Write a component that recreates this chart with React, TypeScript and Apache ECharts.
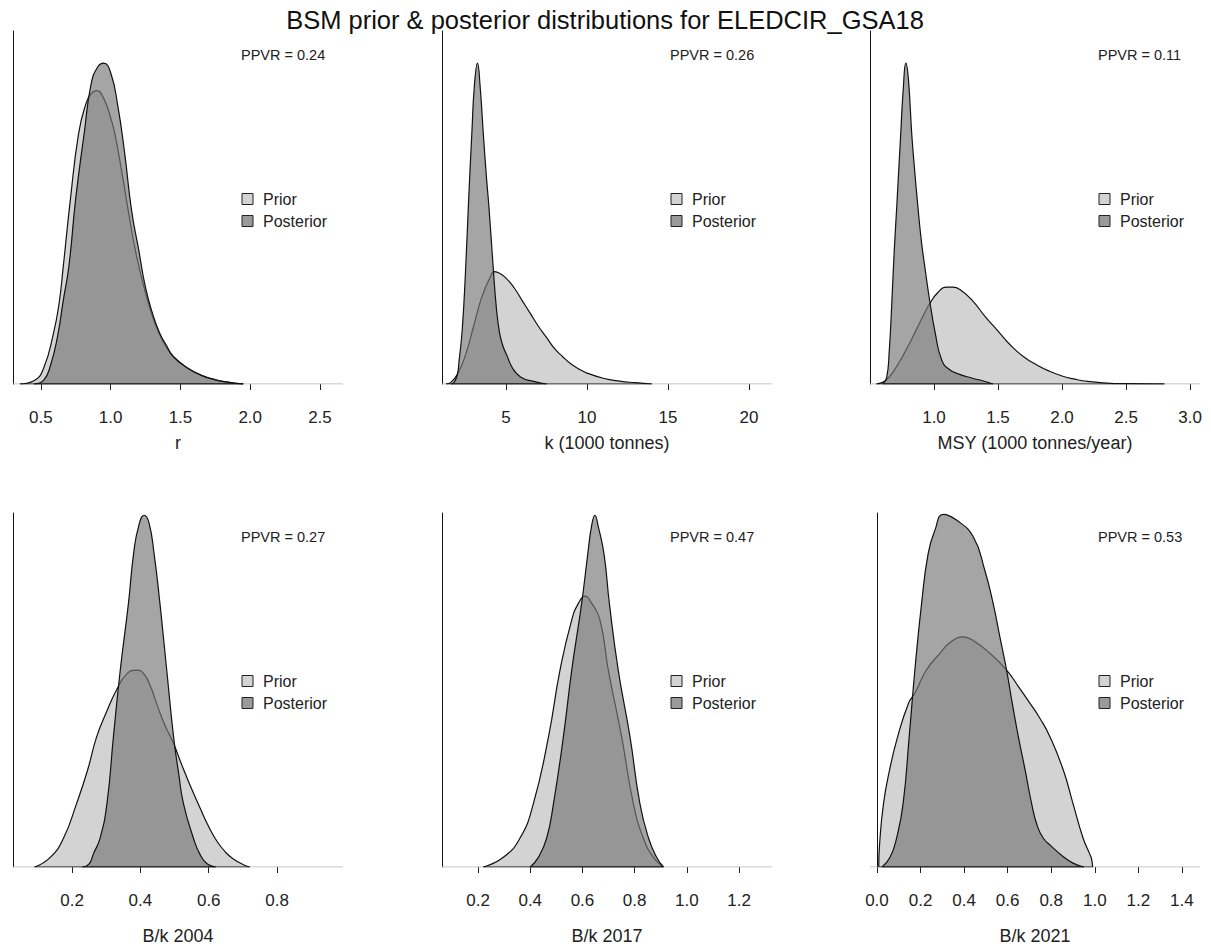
import React, { useEffect, useRef } from 'react';
import * as echarts from 'echarts';

const FONT = '"Liberation Sans", Arial, Helvetica, sans-serif';

const chartTitle = 'BSM prior & posterior distributions for ELEDCIR_GSA18';
const axisNames = ['r', 'k (1000 tonnes)', 'MSY (1000 tonnes/year)', 'B/k 2004', 'B/k 2017', 'B/k 2021'];
const ppvrValues = ['0.24', '0.26', '0.11', '0.27', '0.47', '0.53'];
const legendLabels = ['Prior', 'Posterior'];

const xMins = [0.3, 1.05, 0.5, 0.027, 0.062, -0.032];
const xMaxs = [2.665, 21.42, 3.078, 0.993, 1.326, 1.483];
const xTicks = [
  [0.5, 1.0, 1.5, 2.0, 2.5],
  [5, 10, 15, 20],
  [1.0, 1.5, 2.0, 2.5, 3.0],
  [0.2, 0.4, 0.6, 0.8],
  [0.2, 0.4, 0.6, 0.8, 1.0, 1.2],
  [0.0, 0.2, 0.4, 0.6, 0.8, 1.0, 1.2, 1.4],
];
const tickDecimals = [1, 0, 1, 1, 1, 1];

// relative density (unlabelled y axis)
const rPrior = [[0.35, 0], [0.45, 0.01], [0.52, 0.05], [0.59, 0.158], [0.63, 0.25], [0.66, 0.365], [0.71, 0.57], [0.77, 0.78], [0.82, 0.87], [0.86, 0.905], [0.9, 0.914], [0.95, 0.89], [1.0, 0.83], [1.03, 0.78], [1.08, 0.66], [1.13, 0.53], [1.18, 0.41], [1.24, 0.3], [1.3, 0.21], [1.35, 0.155], [1.4, 0.115], [1.45, 0.085], [1.55, 0.05], [1.65, 0.027], [1.75, 0.013], [1.85, 0.005], [1.9, 0.002], [1.95, 0]];
const rPost = [[0.45, 0], [0.52, 0.012], [0.57, 0.06], [0.62, 0.15], [0.66, 0.26], [0.7, 0.365], [0.75, 0.58], [0.81, 0.78], [0.86, 0.935], [0.91, 0.99], [0.95, 1.0], [1.0, 0.97], [1.05, 0.87], [1.1, 0.72], [1.15, 0.54], [1.2, 0.42], [1.25, 0.3], [1.3, 0.22], [1.35, 0.16], [1.4, 0.12], [1.45, 0.085], [1.55, 0.05], [1.65, 0.027], [1.75, 0.013], [1.85, 0.005], [1.95, 0]];

const kPrior = [[1.3, 0], [1.6, 0.005], [2.0, 0.03], [2.5, 0.09], [3.0, 0.18], [3.5, 0.27], [4.0, 0.33], [4.3, 0.35], [4.6, 0.345], [5.0, 0.33], [5.5, 0.3], [6.0, 0.26], [6.5, 0.22], [7.0, 0.18], [7.5, 0.145], [8.0, 0.11], [8.5, 0.085], [9.0, 0.063], [9.5, 0.047], [10, 0.034], [11, 0.018], [12, 0.009], [13, 0.004], [14, 0]];
const kPost = [[1.6, 0], [1.8, 0.005], [2.0, 0.03], [2.1, 0.07], [2.3, 0.17], [2.5, 0.35], [2.7, 0.58], [2.9, 0.79], [3.05, 0.93], [3.24, 1.0], [3.4, 0.93], [3.6, 0.78], [3.8, 0.64], [3.95, 0.55], [4.2, 0.37], [4.4, 0.24], [4.6, 0.16], [4.8, 0.12], [5.05, 0.09], [5.4, 0.05], [5.9, 0.022], [6.7, 0.008], [7.5, 0]];

const msyPrior = [[0.55, 0], [0.62, 0.01], [0.7, 0.05], [0.8, 0.12], [0.9, 0.2], [0.96, 0.246], [1.03, 0.285], [1.1, 0.302], [1.15, 0.302], [1.2, 0.295], [1.3, 0.26], [1.4, 0.21], [1.5, 0.165], [1.6, 0.12], [1.7, 0.085], [1.8, 0.06], [1.9, 0.04], [2.0, 0.025], [2.1, 0.015], [2.2, 0.008], [2.35, 0.003], [2.5, 0.001], [2.8, 0]];
const msyPost = [[0.6, 0], [0.63, 0.02], [0.65, 0.1], [0.67, 0.25], [0.69, 0.42], [0.71, 0.56], [0.74, 0.78], [0.76, 0.92], [0.78, 1.0], [0.8, 0.95], [0.826, 0.78], [0.85, 0.66], [0.87, 0.57], [0.9, 0.45], [0.93, 0.36], [0.97, 0.25], [1.01, 0.158], [1.06, 0.075], [1.12, 0.045], [1.2, 0.03], [1.3, 0.018], [1.38, 0.01], [1.46, 0]];

const bk2004Prior = [[0.09, 0], [0.136, 0.03], [0.175, 0.09], [0.213, 0.197], [0.245, 0.3], [0.272, 0.405], [0.3, 0.48], [0.33, 0.55], [0.36, 0.6], [0.389, 0.612], [0.41, 0.6], [0.43, 0.56], [0.45, 0.5], [0.472, 0.44], [0.497, 0.384], [0.52, 0.32], [0.545, 0.255], [0.574, 0.185], [0.6, 0.125], [0.624, 0.08], [0.65, 0.045], [0.672, 0.025], [0.7, 0.008], [0.72, 0]];
const bk2004Post = [[0.23, 0], [0.25, 0.01], [0.262, 0.04], [0.282, 0.09], [0.302, 0.197], [0.321, 0.405], [0.341, 0.612], [0.365, 0.82], [0.38, 0.974], [0.395, 1.06], [0.411, 1.093], [0.425, 1.07], [0.44, 0.974], [0.457, 0.82], [0.477, 0.612], [0.497, 0.405], [0.512, 0.29], [0.526, 0.197], [0.555, 0.09], [0.574, 0.04], [0.595, 0.01], [0.62, 0]];

const bk2017Prior = [[0.22, 0], [0.297, 0.03], [0.361, 0.09], [0.412, 0.197], [0.47, 0.405], [0.514, 0.612], [0.559, 0.768], [0.585, 0.82], [0.61, 0.842], [0.635, 0.82], [0.667, 0.768], [0.699, 0.612], [0.75, 0.405], [0.795, 0.197], [0.833, 0.09], [0.872, 0.03], [0.91, 0]];
const bk2017Post = [[0.4, 0], [0.431, 0.03], [0.463, 0.09], [0.489, 0.197], [0.527, 0.405], [0.559, 0.612], [0.597, 0.82], [0.62, 0.97], [0.635, 1.06], [0.648, 1.093], [0.66, 1.06], [0.683, 0.97], [0.703, 0.82], [0.737, 0.612], [0.782, 0.405], [0.82, 0.197], [0.853, 0.09], [0.884, 0.03], [0.91, 0]];

const bk2021Prior = [[0.008, 0], [0.012, 0.07], [0.03, 0.197], [0.058, 0.302], [0.095, 0.405], [0.145, 0.509], [0.174, 0.54], [0.227, 0.612], [0.289, 0.664], [0.34, 0.7], [0.396, 0.715], [0.45, 0.7], [0.518, 0.664], [0.595, 0.612], [0.65, 0.56], [0.702, 0.509], [0.75, 0.46], [0.794, 0.405], [0.855, 0.302], [0.9, 0.197], [0.946, 0.09], [0.977, 0.04], [0.985, 0.025], [0.99, 0]];
const bk2021Post = [[0.023, 0], [0.06, 0.03], [0.09, 0.09], [0.12, 0.197], [0.148, 0.405], [0.174, 0.612], [0.205, 0.82], [0.235, 0.974], [0.266, 1.046], [0.304, 1.096], [0.365, 1.078], [0.442, 1.026], [0.495, 0.922], [0.533, 0.82], [0.564, 0.716], [0.595, 0.612], [0.621, 0.509], [0.649, 0.405], [0.68, 0.302], [0.71, 0.197], [0.735, 0.13], [0.763, 0.09], [0.8, 0.065], [0.85, 0.035], [0.9, 0.012], [0.95, 0]];

const priors = [rPrior, kPrior, msyPrior, bk2004Prior, bk2017Prior, bk2021Prior];
const posteriors = [rPost, kPost, msyPost, bk2004Post, bk2017Post, bk2021Post];

const GRID_LEFTS = [13, 442, 870];
const GRID_TOPS = [31, 513];
const GRID_HEIGHTS = [353, 354];
const GRID_W = 330;
const Y_MAX = 1.1;

const PRIOR_FILL = '#d3d3d3';
const POST_FILL = 'rgba(118,118,118,0.66)';

function buildOption() {
  const grid: any[] = [];
  const xAxis: any[] = [];
  const yAxis: any[] = [];
  const series: any[] = [];
  const graphic: any[] = [];

  graphic.push({
    type: 'text', x: 605, y: 20,
    style: { text: chartTitle, font: `25.5px ${FONT}`, fill: '#111', textAlign: 'center', textVerticalAlign: 'middle' },
  });

  for (let i = 0; i < 6; i++) {
    const row = Math.floor(i / 3);
    const col = i % 3;
    const gl = GRID_LEFTS[col];
    const gt = GRID_TOPS[row];
    grid.push({ left: gl, top: gt, width: GRID_W, height: GRID_HEIGHTS[row], containLabel: false });
    const dec = tickDecimals[i];
    xAxis.push({
      type: 'value', gridIndex: i, min: xMins[i], max: xMaxs[i], offset: 3,
      splitLine: { show: false },
      axisLine: { show: false },
      axisTick: { show: true, customValues: xTicks[i], length: 6, lineStyle: { color: '#222', width: 1 } },
      axisLabel: {
        customValues: xTicks[i], margin: 22, fontSize: 17, fontFamily: FONT, color: '#222',
        formatter: (v: number) => v.toFixed(dec),
      },
      name: axisNames[i], nameLocation: 'middle', nameGap: row === 0 ? 47 : 57,
      nameTextStyle: { fontSize: 18, fontFamily: FONT, color: '#222' },
    });
    yAxis.push({
      type: 'value', gridIndex: i, min: 0, max: Y_MAX,
      splitLine: { show: false },
      axisLine: { show: true, lineStyle: { color: '#111', width: 1 } },
      axisTick: { show: false }, axisLabel: { show: false },
    });
    // grey zero line across the panel
    series.push({
      type: 'line', xAxisIndex: i, yAxisIndex: i, silent: true, symbol: 'none',
      data: [[xMins[i], 0], [xMaxs[i], 0]],
      lineStyle: { color: '#b5b5b5', width: 1 }, z: 1,
    });
    const pr = priors[i];
    const po = posteriors[i];
    series.push({
      type: 'line', name: 'Prior', xAxisIndex: i, yAxisIndex: i, data: pr,
      smooth: 0.5, symbol: 'none',
      lineStyle: { color: '#111', width: 1.2 },
      areaStyle: { color: PRIOR_FILL, opacity: 1 }, z: 2,
    });
    series.push({
      type: 'line', name: 'Posterior', xAxisIndex: i, yAxisIndex: i, data: po,
      smooth: 0.5, symbol: 'none',
      lineStyle: { color: '#111', width: 1.2 },
      areaStyle: { color: POST_FILL, opacity: 1 }, z: 3,
    });
    // polygon base outlines
    [pr, po].forEach((d) => {
      series.push({
        type: 'line', xAxisIndex: i, yAxisIndex: i, silent: true, symbol: 'none',
        data: [[d[0][0], 0], [d[d.length - 1][0], 0]],
        lineStyle: { color: '#111', width: 1.2 }, z: 4,
      });
    });

    graphic.push({
      type: 'text', x: gl + 228, y: gt + 24,
      style: { text: `PPVR = ${ppvrValues[i]}`, font: `14.5px ${FONT}`, fill: '#222', textVerticalAlign: 'middle' },
    });
    legendLabels.forEach((lab, j) => {
      const cy = gt + 168 + j * 22;
      graphic.push({
        type: 'rect', shape: { x: gl + 229, y: cy - 5.5, width: 11, height: 11 },
        style: { fill: j === 0 ? PRIOR_FILL : '#9a9a9a', stroke: '#222', lineWidth: 1 },
      });
      graphic.push({
        type: 'text', x: gl + 250, y: cy,
        style: { text: lab, font: `16px ${FONT}`, fill: '#222', textVerticalAlign: 'middle' },
      });
    });
  }

  return {
    animation: false,
    backgroundColor: '#ffffff',
    grid, xAxis, yAxis, series, graphic,
  };
}

export default function App() {
  const ref = useRef<HTMLDivElement>(null);
  useEffect(() => {
    if (!ref.current) return;
    const chart = echarts.init(ref.current, undefined, { renderer: 'svg' });
    chart.setOption(buildOption() as any);
    return () => chart.dispose();
  }, []);
  return (
    <div
      ref={ref}
      style={{ position: 'fixed', left: 0, top: 0, width: 1211, height: 949, background: '#fff' }}
    />
  );
}
